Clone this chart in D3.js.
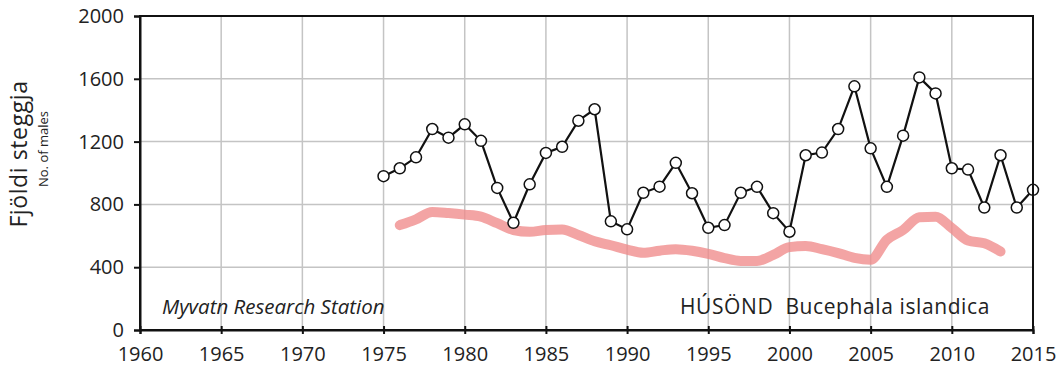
<!DOCTYPE html>
<html>
<head>
<meta charset="utf-8">
<script src="https://cdn.jsdelivr.net/npm/d3@7"></script>
<style>
  html, body { margin: 0; padding: 0; background: #fff; }
  svg { display: block; }
  text { font-family: "Open Sans", "DejaVu Sans", sans-serif; fill: #222; }
</style>
</head>
<body>
<svg id="chart" width="1063" height="374"></svg>
<script>
// Annual counts of Barrow's goldeneye drakes at Mývatn
const years = d3.range(1975, 2016);
const males = [
  980, 1030, 1100, 1280, 1225, 1310, 1205, 905, 683, 928,
  1128, 1167, 1333, 1406, 692, 641, 874, 913, 1065, 871,
  651, 668, 874, 912, 744, 626, 1113, 1130, 1280, 1552,
  1157, 912, 1238, 1609, 1507, 1030, 1022, 780, 1113, 780, 893
];

// Smoothed trend (running mean)
const trendYears = d3.range(1976, 2014);
const trend = [
  668, 705, 752, 745, 735, 722, 680, 637, 626, 637,
  640, 605, 565, 540, 512, 492, 505, 515, 505, 485,
  458, 440, 440, 478, 528, 535, 515, 490, 460, 448,
  575, 637, 718, 722, 650, 570, 552, 500
];

const xTicks = d3.range(1960, 2016, 5);
const yTicks = [0, 400, 800, 1200, 1600, 2000];

const svg = d3.select("#chart");
const x = d3.scaleLinear().domain([1960, 2015]).range([140, 1033]);
const y = d3.scaleLinear().domain([0, 2000]).range([330, 16]);

// grid
const grid = svg.append("g").attr("stroke", "#c4c4c4").attr("stroke-width", 1.5);
grid.selectAll(".vg").data(xTicks.slice(1, -1)).join("line")
  .attr("x1", d => x(d)).attr("x2", d => x(d))
  .attr("y1", y(2000)).attr("y2", y(0));
grid.selectAll(".hg").data(yTicks.slice(1, -1)).join("line")
  .attr("x1", x(1960)).attr("x2", x(2015))
  .attr("y1", d => y(d)).attr("y2", d => y(d));

// trend line
svg.append("path")
  .datum(trendYears.map((yr, i) => [yr, trend[i]]))
  .attr("fill", "none")
  .attr("stroke", "#f08a8a")
  .attr("stroke-opacity", 0.78)
  .attr("stroke-width", 10)
  .attr("stroke-linecap", "round")
  .attr("stroke-linejoin", "round")
  .attr("d", d3.line().x(d => x(d[0])).y(d => y(d[1])).curve(d3.curveMonotoneX));

// count series
const pts = years.map((yr, i) => [yr, males[i]]);
svg.append("path")
  .datum(pts)
  .attr("fill", "none")
  .attr("stroke", "#111")
  .attr("stroke-width", 2.2)
  .attr("d", d3.line().x(d => x(d[0])).y(d => y(d[1])));
svg.selectAll(".pt").data(pts).join("circle")
  .attr("cx", d => x(d[0])).attr("cy", d => y(d[1]))
  .attr("r", 5.5)
  .attr("fill", "#fff").attr("stroke", "#111").attr("stroke-width", 1.5);

// frame
svg.append("rect")
  .attr("x", x(1960)).attr("y", y(2000))
  .attr("width", x(2015) - x(1960)).attr("height", y(0) - y(2000))
  .attr("fill", "none").attr("stroke", "#111").attr("stroke-width", 2);

// axes
const yAxis = svg.append("g").attr("transform", `translate(${x(1960)},0)`)
  .call(d3.axisLeft(y).tickValues(yTicks).tickSize(6).tickPadding(10).tickFormat(d3.format("d")));
const xAxis = svg.append("g").attr("transform", `translate(0,${y(0)})`)
  .call(d3.axisBottom(x).tickValues(xTicks).tickSize(4).tickPadding(13).tickFormat(d3.format("d")));
[yAxis, xAxis].forEach(a => {
  a.select(".domain").attr("stroke", "#111").attr("stroke-width", 2);
  a.selectAll(".tick line").attr("stroke", "#111").attr("stroke-width", 2);
  a.selectAll(".tick text").style("font-size", "20px").attr("fill", "#222")
    .style("font-family", "'Open Sans', sans-serif");
});
xAxis.selectAll(".tick line").attr("y1", -4);

// y title
svg.append("text")
  .attr("transform", "translate(27,154) rotate(-90)")
  .attr("text-anchor", "middle")
  .style("font-size", "23px")
  .style("letter-spacing", "0.6px")
  .text("Fjöldi steggja");
svg.append("text")
  .attr("transform", "translate(48,149) rotate(-90)")
  .attr("text-anchor", "middle")
  .style("font-size", "13px")
  .text("No. of males");

// annotations
svg.append("text")
  .attr("x", 162).attr("y", 314)
  .style("font-size", "20.5px").style("font-style", "italic")
  .text("Myvatn Research Station");
svg.append("text")
  .attr("x", 680).attr("y", 314)
  .style("font-size", "21px")
  .style("letter-spacing", "0.6px")
  .text("HÚSÖND\u00a0 Bucephala islandica");
</script>
</body>
</html>
